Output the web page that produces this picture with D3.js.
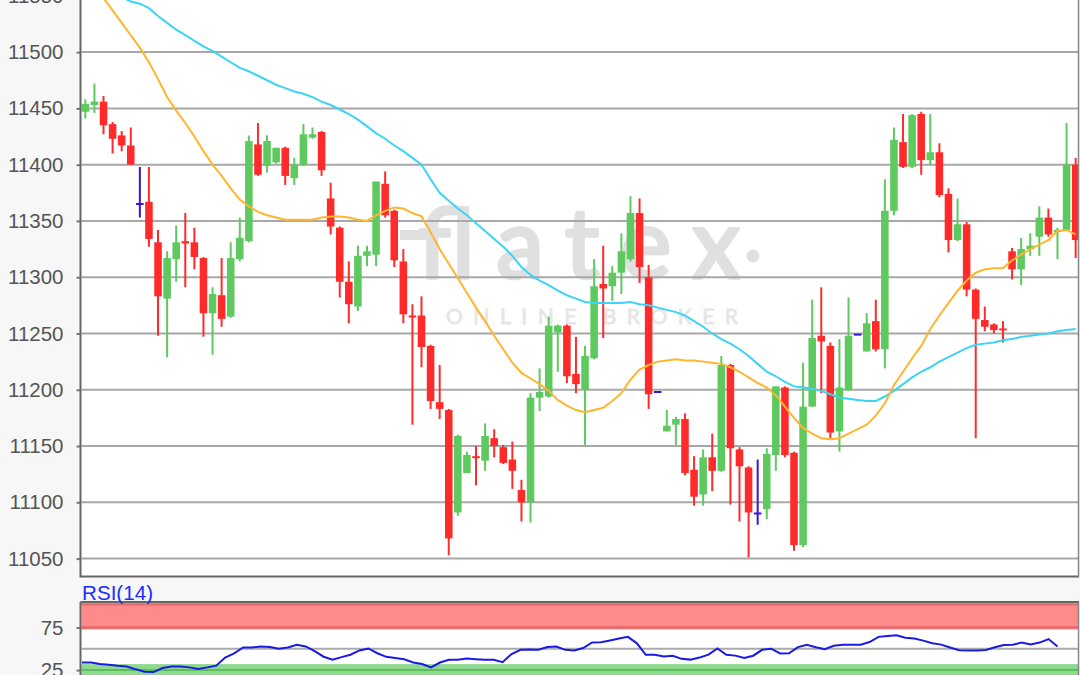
<!DOCTYPE html>
<html><head><meta charset="utf-8">
<script src="https://cdn.jsdelivr.net/npm/d3@7"></script>
<style>html,body{margin:0;padding:0;background:#f7f7f7;overflow:hidden}svg{display:block}</style>
</head><body><svg id="c" width="1080" height="675"></svg>
<script>
const opens = [11447,11453,11456,11436,11426,11417,11365,11367,11331,11281, 11316,11332,11331,11317,11268,11284,11265,11316,11332,11418, 11399,11402,11415,11388,11400,11424,11429,11370,11344,11296, 11274,11319,11320,11383,11359,11314,11266,11266,11239,11189, 11182,11091,11126,11141,11137,11157,11149,11138,11111,11100, 11193,11194,11251,11257,11214,11200,11228,11294,11292,11304, 11316,11357,11300,11198,11163,11169,11174,11129,11107,11140, 11128,11222,11147,11131,11090,11094,11142,11202,11144,11062, 11185,11248,11239,11163,11200,11249,11234,11261,11236,11359, 11420,11398,11445,11404,11411,11374,11333,11347,11289,11262, 11258,11254.5,11323,11307,11325,11336,11353,11340,11342,11400];
const highs = [11458,11472,11461,11438,11430,11433,11398,11398,11342,11323, 11346,11357,11344,11318,11291,11317,11331,11353,11426,11437, 11426,11415,11416,11406,11436,11433,11430,11384,11345,11314, 11328,11328,11385,11394,11360,11325,11276,11283,11240,11222, 11183,11160,11145,11150,11170,11165,11151,11154,11120,11197, 11219,11265,11258,11258,11247,11239,11316,11328,11310,11339, 11372,11370,11311,11198,11182,11176,11179,11141,11147,11161, 11230,11223,11149,11132,11138,11148,11203,11203,11145,11224, 11280,11291,11242,11245,11282,11249,11268,11280,11387,11433, 11445,11445,11447,11445,11419,11379,11370,11349,11290,11274, 11259,11261,11326,11335,11339,11363,11361,11344,11437,11406];
const lows = [11441,11446,11427,11410,11412,11400,11353,11327,11248,11229, 11296,11291,11307,11247,11231,11256,11264,11314,11331,11390, 11393,11401,11382,11382,11399,11423,11390,11338,11282,11259, 11270,11310,11310,11353,11309,11259,11169,11220,11183,11174, 11053,11088,11126,11115,11128,11140,11134,11112,11083,11082, 11181,11193,11216,11206,11197,11151,11227,11246,11279,11285, 11314,11295,11183,11198,11163,11151,11124,11097,11097,11110, 11127,11098,11083,11051,11080,11085,11128,11140,11057,11060, 11185,11197,11157,11145,11199,11249,11234,11234,11219,11355, 11397,11397,11391,11400,11371,11322,11332,11283,11157,11252, 11250,11242,11298,11293,11319,11319,11336,11316,11342,11317];
const closes = [11454,11456,11435,11423,11417,11400,11365,11334,11283,11317, 11331,11330,11318,11268,11285,11263,11317,11335,11421,11391, 11421,11415,11390,11400,11427,11427,11395,11345,11296,11276, 11319,11323,11385,11355,11315,11267,11265,11238,11190,11183, 11068,11159,11142,11140,11159,11150,11135,11128,11100,11193, 11198,11257,11257,11212,11205,11230,11292,11290,11304,11323, 11357,11309,11196,11198,11168,11174,11126,11105,11140,11128, 11222,11148,11132,11091,11090,11143,11203,11142,11062,11185, 11246,11243,11162,11202,11248,11249,11259,11236,11359,11422, 11398,11444,11404,11411,11373,11333,11347,11289,11263,11256, 11253,11254,11307,11325,11328,11353,11338,11342,11400,11333];
const maFast = [11571,11560,11548,11537,11526,11515,11504,11491,11476,11460, 11448,11437,11425,11412,11400,11390,11379,11369,11363,11358, 11355,11353,11351,11351,11351,11351,11353,11354,11354,11353, 11351,11350,11355,11359,11362,11361,11357,11354,11340,11325, 11312,11299,11286,11273,11261,11248,11236,11224,11215,11210, 11205,11199,11191,11186,11182,11180,11182,11184,11190,11197, 11209,11218,11222,11225,11226,11227,11226,11226,11225,11224, 11223,11220,11216,11211,11206,11202,11195,11185,11175,11166, 11161,11157,11156,11157,11161,11165,11169,11177,11188,11204, 11216,11228,11239,11254,11266,11277,11288,11297,11304,11307, 11308,11308,11315,11320,11325,11329,11333,11341,11342,11338];
const maSlow = [11569,11564,11559,11554,11549,11545,11543,11539,11532,11526, 11520,11515,11510,11505,11501,11496,11491,11486,11483,11479, 11475,11471,11468,11465,11463,11460,11456,11453,11449,11445, 11440,11434,11428,11423,11417,11412,11406,11400,11387,11375, 11368,11361,11355,11348,11341,11334,11327,11319,11309,11302, 11297,11293,11288,11284,11281,11278,11277,11277,11277,11277, 11278,11276,11275,11273,11271,11269,11266,11261,11256,11250, 11245,11241,11236,11230,11223,11216,11212,11207,11203,11202, 11201,11199,11196,11193,11192,11191,11190,11190,11194,11199, 11205,11211,11216,11220,11225,11229,11233,11237,11240,11241, 11242,11244,11245,11247,11248,11249,11250,11252,11253,11254];
const rsi = [33.9,33.9,32.1,31.4,30.1,29.3,25.9,23.2,22.7,27.4, 29.3,29.3,28.2,26.3,28.2,30.2,39.7,44.7,51.5,51.4, 52.7,52.1,50.2,51.5,54.7,52.8,47.2,40.7,37.1,40.2, 43,48.1,50.4,44.8,40.6,39.1,37.7,33.9,32.1,28.1, 33.9,37.1,37.1,38.5,37.7,37.1,37.1,34.3,43.9,48.8, 49.3,48.8,52.2,52.7,48.8,48.1,50.9,57.4,57.6,59.7, 62,64,56.4,43,43,41.1,41.8,38.2,37.3,39.7, 43.2,50.5,43,42,39.1,41.9,48.8,50.1,44.5,44.7, 52,54.7,51.8,49.5,53.5,54.7,54.7,54.7,57.9,64, 65,65.9,63.1,62,59.6,56.6,54.9,51.5,48.4,48, 48,48.6,51.8,54.5,54.7,57.4,55,57.3,61.4,52.7];
const priceTicks = [11050,11100,11150,11200,11250,11300,11350,11400,11450,11500,11550];
const rsiTicks = [25,75];
const rsiLabel = "RSI(14)";
const wmMain = "flatex";
const wmSub = "ONLINE BROKER";

const W = 1080, H = 675;
const RED = "#ff2b2b", GREEN = "#5ec95e", BLUE = "#3c12d6";
const ORANGE = "#ffb52e", CYAN = "#3cd4f5";
const FONT = '"Liberation Sans", Arial, sans-serif';
const n = closes.length;
const plot = {l: 80.5, r: 1079, t: -40, b: 576.5};
const rp = {t: 602, b: 690};

const svg = d3.select("#c");
const defs = svg.append("defs");
defs.append("clipPath").attr("id","cm").append("rect")
  .attr("x",plot.l+1).attr("y",plot.t).attr("width",plot.r-plot.l-1).attr("height",plot.b-plot.t);
defs.append("clipPath").attr("id","cr").append("rect")
  .attr("x",plot.l+1).attr("y",rp.t+1).attr("width",plot.r-plot.l-1).attr("height",rp.b-rp.t);

svg.append("rect").attr("width",W).attr("height",H).attr("fill","#f7f7f7");
svg.append("rect").attr("x",plot.l).attr("y",plot.t).attr("width",plot.r-plot.l).attr("height",plot.b-plot.t).attr("fill","#fff");
svg.append("rect").attr("x",plot.l).attr("y",rp.t).attr("width",plot.r-plot.l).attr("height",rp.b-rp.t).attr("fill","#fff");

const x = d3.scaleBand().domain(d3.range(n)).range([80.8,1080.2]).paddingInner(0.17).paddingOuter(0.085);
const bw = x.bandwidth();
const cx = i => x(i) + bw/2;
const y = d3.scaleLinear().domain([11050,11500]).range([558.6,52.1]);

const main = svg.append("g").attr("clip-path","url(#cm)");
// watermark
const wm = main.append("g").attr("fill","#e0e0e0");
wm.append("rect").attr("x",400).attr("y",230).attr("width",36).attr("height",10);
wm.append("text").attr("x",418).attr("y",278).attr("textLength",322).attr("lengthAdjust","spacing")
  .attr("stroke","#e0e0e0").attr("stroke-width",3.5).attr("stroke-linejoin","round")
  .style("font",'96px Lato, "Open Sans", sans-serif').text(wmMain);
wm.append("circle").attr("cx",753).attr("cy",256).attr("r",6.5);
wm.append("text").attr("x",446).attr("y",324).attr("textLength",292).attr("lengthAdjust","spacing")
  .attr("fill","#e6e6e6").attr("stroke","#e6e6e6").attr("stroke-width",0.8)
  .style("font",'21px Lato, "Open Sans", sans-serif').text(wmSub);

// gridlines
main.append("g").selectAll("line").data(priceTicks).join("line")
  .attr("x1",plot.l).attr("x2",plot.r).attr("y1",d=>y(d)).attr("y2",d=>y(d))
  .attr("stroke","#a8a8a8").attr("stroke-width",2);

// candles
const data = d3.range(n).map(i => ({i, o: opens[i], h: highs[i], l: lows[i], c: closes[i]}));
const col = d => d.c > d.o ? GREEN : (d.c < d.o ? RED : BLUE);
const cg = main.append("g");
cg.selectAll("line.w").data(data).join("line").attr("class","w")
  .attr("x1",d=>cx(d.i)).attr("x2",d=>cx(d.i)).attr("y1",d=>y(d.h)).attr("y2",d=>y(d.l))
  .attr("stroke",col).attr("stroke-width",2);
cg.selectAll("rect.b").data(data.filter(d=>d.c!==d.o)).join("rect").attr("class","b")
  .attr("x",d=>x(d.i)).attr("width",bw)
  .attr("y",d=>y(Math.max(d.o,d.c)))
  .attr("height",d=>Math.max(2, Math.abs(y(d.o)-y(d.c))))
  .attr("fill",col);
cg.selectAll("line.t").data(data.filter(d=>d.c===d.o)).join("line").attr("class","t")
  .attr("x1",d=>x(d.i)).attr("x2",d=>x(d.i)+bw).attr("y1",d=>y(d.o)).attr("y2",d=>y(d.o))
  .attr("stroke",BLUE).attr("stroke-width",2);

// moving averages
const lineFn = arr => d3.line().x((d,i)=>cx(i)).y(d=>y(d))(arr);
main.append("path").attr("d",lineFn(maSlow)).attr("fill","none").attr("stroke",CYAN).attr("stroke-width",2);
main.append("path").attr("d",lineFn(maFast)).attr("fill","none").attr("stroke",ORANGE).attr("stroke-width",2);

// y axis
const yAxis = d3.axisLeft(y).tickValues(priceTicks).tickSize(4).tickPadding(13).tickFormat(d3.format("d"));
const ga = svg.append("g").attr("transform",`translate(${plot.l},0)`).call(yAxis);
ga.select(".domain").remove();
ga.selectAll("line").attr("stroke","#777").attr("stroke-width",2);
ga.selectAll("text").attr("fill","#555").style("font",`20.5px ${FONT}`);

// frame
svg.append("line").attr("x1",plot.l).attr("x2",plot.l).attr("y1",plot.t).attr("y2",plot.b+1).attr("stroke","#666").attr("stroke-width",2);
svg.append("line").attr("x1",plot.l).attr("x2",plot.r).attr("y1",plot.b).attr("y2",plot.b).attr("stroke","#666").attr("stroke-width",2);
svg.append("line").attr("x1",plot.r-0.5).attr("x2",plot.r-0.5).attr("y1",plot.t).attr("y2",plot.b).attr("stroke","#888").attr("stroke-width",1.5);

// RSI panel
const rx = d3.scaleLinear().domain([0,n-1]).range([82,1057.5]);
const ry = d3.scaleLinear().domain([25,75]).range([670.1,627.5]);
const rg = svg.append("g").attr("clip-path","url(#cr)");
rg.append("rect").attr("x",plot.l).attr("y",rp.t).attr("width",plot.r-plot.l).attr("height",ry(75)+2-rp.t).attr("fill","#ff8a8a");
rg.append("line").attr("x1",plot.l).attr("x2",plot.r).attr("y1",rp.t+2.5).attr("y2",rp.t+2.5).attr("stroke","#e56a6a").attr("stroke-width",2);
rg.append("line").attr("x1",plot.l).attr("x2",plot.r).attr("y1",ry(75)).attr("y2",ry(75)).attr("stroke","#e56a6a").attr("stroke-width",2.5);
rg.append("rect").attr("x",plot.l).attr("y",ry(25)-6).attr("width",plot.r-plot.l).attr("height",rp.b-ry(25)+6).attr("fill","#8fd98f");
rg.append("line").attr("x1",plot.l).attr("x2",plot.r).attr("y1",ry(25)).attr("y2",ry(25)).attr("stroke","#5fbf5f").attr("stroke-width",2);
rg.append("line").attr("x1",plot.l).attr("x2",plot.r).attr("y1",ry(50)).attr("y2",ry(50)).attr("stroke","#aaa").attr("stroke-width",2);
rg.append("path").attr("d",d3.line().x((d,i)=>rx(i)).y(d=>ry(d))(rsi)).attr("fill","none").attr("stroke","#1a1ae6").attr("stroke-width",2);

const ra = d3.axisLeft(ry).tickValues(rsiTicks).tickSize(4).tickPadding(13);
const gra = svg.append("g").attr("transform",`translate(${plot.l},0)`).call(ra);
gra.select(".domain").remove();
gra.selectAll("line").attr("stroke","#777").attr("stroke-width",2);
gra.selectAll("text").attr("fill","#555").style("font",`20.5px ${FONT}`);

svg.append("line").attr("x1",plot.l).attr("x2",plot.r).attr("y1",rp.t).attr("y2",rp.t).attr("stroke","#666").attr("stroke-width",2);
svg.append("line").attr("x1",plot.l).attr("x2",plot.l).attr("y1",rp.t).attr("y2",H).attr("stroke","#666").attr("stroke-width",2);
svg.append("line").attr("x1",plot.r-0.5).attr("x2",plot.r-0.5).attr("y1",rp.t).attr("y2",H).attr("stroke","#888").attr("stroke-width",1.5);

svg.append("text").attr("x",82).attr("y",599.5).attr("fill","#1a2cff")
  .attr("textLength",71).attr("lengthAdjust","spacingAndGlyphs")
  .style("font",`19.5px ${FONT}`).text(rsiLabel);
</script></body></html>
